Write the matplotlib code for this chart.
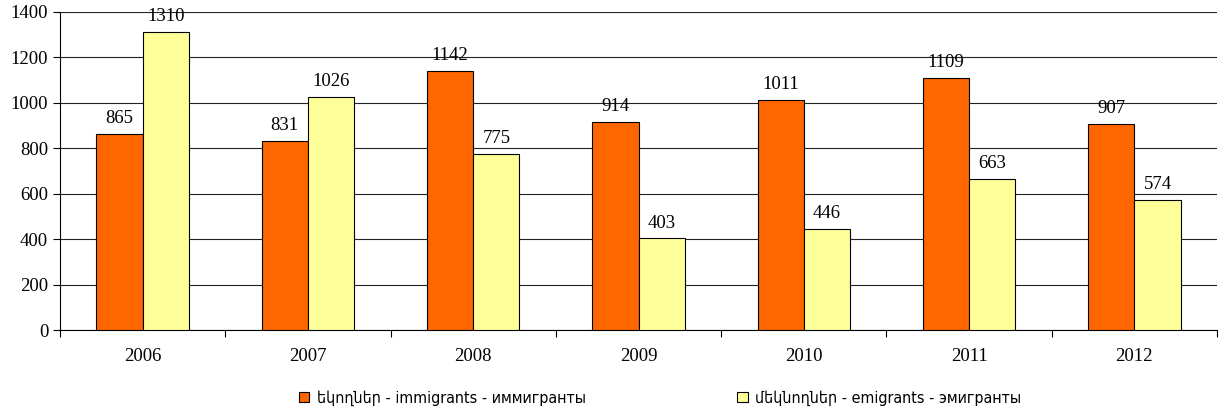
import matplotlib
matplotlib.use("Agg")
import matplotlib.pyplot as plt
import numpy as np

years = ["2006", "2007", "2008", "2009", "2010", "2011", "2012"]
immigrants = [865, 831, 1142, 914, 1011, 1109, 907]
emigrants = [1310, 1026, 775, 403, 446, 663, 574]
labels = ["եկողներ - immigrants - иммигранты", "մեկնողներ - emigrants - эмигранты"]
colors = ["#FF6600", "#FFFF99"]

plt.rcParams['font.family'] = ['Liberation Serif', 'DejaVu Serif']

fig = plt.figure(figsize=(12.2, 4.15), dpi=100)
ax = fig.add_axes([60/1220, 1 - 330/415, (1217-60)/1220, (330-12)/415])

x = np.arange(len(years))
w = 0.28
b1 = ax.bar(x - w/2, immigrants, w, color=colors[0], edgecolor="black", linewidth=0.8, label=labels[0], zorder=3)
b2 = ax.bar(x + w/2, emigrants, w, color=colors[1], edgecolor="black", linewidth=0.8, label=labels[1], zorder=3)

for bars, vals in ((b1, immigrants), (b2, emigrants)):
    for r, v in zip(bars, vals):
        ax.annotate(str(v), (r.get_x() + r.get_width()/2, v), xytext=(0, 5),
                    textcoords="offset points", ha="center", va="bottom", fontsize=13.5)

ax.set_xlim(-0.5, len(years) - 0.5)
ax.set_ylim(0, 1400)
ax.set_yticks(range(0, 1401, 200))
ax.tick_params(axis="y", labelsize=13.5, length=5, width=0.8, direction="out")
ax.set_xticks(x)
ax.set_xticklabels(years)
ax.set_xticks(np.arange(-0.5, len(years)), minor=True)
ax.tick_params(axis="x", which="major", length=0, labelsize=13.5, pad=13)
ax.tick_params(axis="x", which="minor", length=5, width=0.8, direction="out")
ax.yaxis.grid(True, color="#222222", linewidth=0.8, zorder=0)
ax.set_axisbelow(True)
for s in ("top", "right"):
    ax.spines[s].set_visible(False)
ax.spines["left"].set_linewidth(0.8)
ax.spines["bottom"].set_linewidth(0.8)

leg = fig.legend(handles=[b1, b2], labels=labels, loc="center", bbox_to_anchor=(0.541, 1 - 398/415),
                 ncol=2, frameon=False, handlelength=0.65, handleheight=0.65, handletextpad=0.45,
                 columnspacing=9.5,
                 prop={"family": ["DejaVu Sans"], "stretch": "condensed", "size": 11.5})

fig.savefig("out.png", dpi=100)
